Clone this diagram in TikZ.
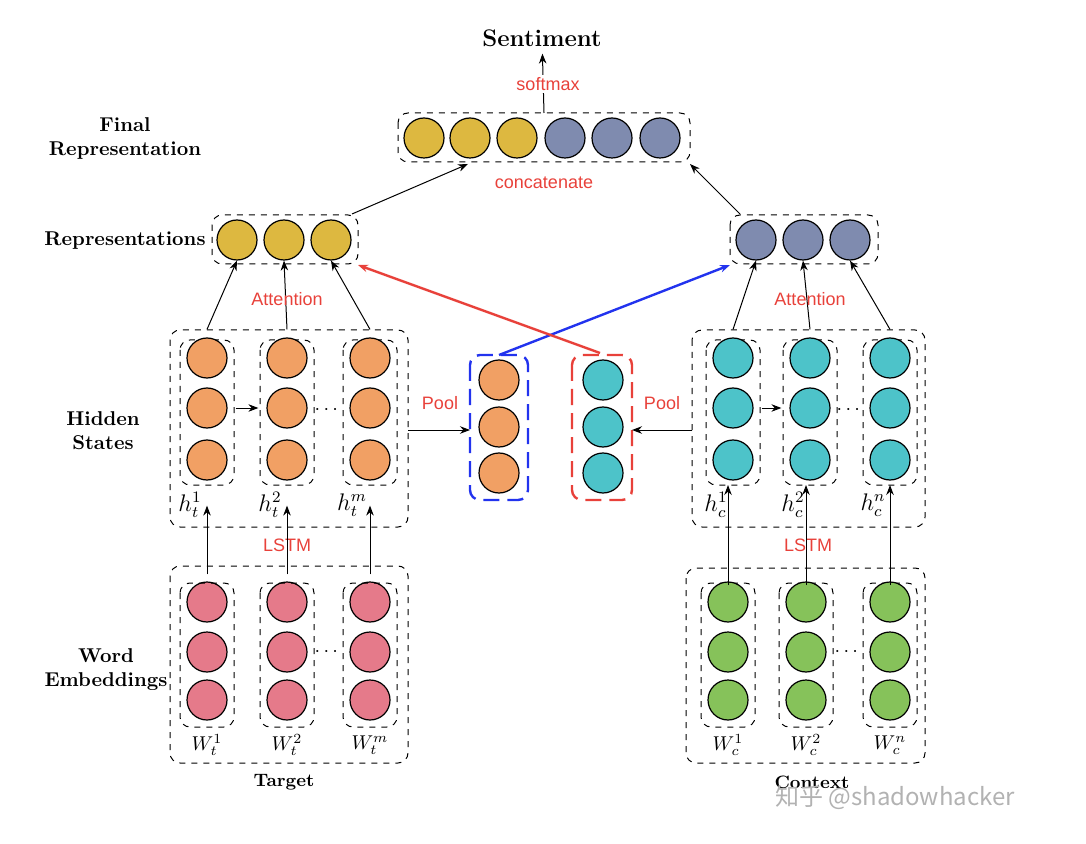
\documentclass[tikz,border=0pt]{standalone}
\usepackage{amsmath}
\usepackage{fontspec}
\newfontfamily\sansf{Liberation Sans}
\newfontfamily\cjk{Noto Sans CJK SC}
\usetikzlibrary{arrows.meta,calc}
\definecolor{cyel}{HTML}{DDB840}
\definecolor{cgry}{HTML}{7F8BAF}
\definecolor{corg}{HTML}{F1A064}
\definecolor{ccyn}{HTML}{4DC3C9}
\definecolor{cpnk}{HTML}{E57A8A}
\definecolor{cgrn}{HTML}{86C25A}
\definecolor{cred}{HTML}{E8413A}
\definecolor{cblu}{HTML}{2233EE}
\tikzset{
  unit/.style={circle,draw,line width=0.6pt,minimum size=20pt,inner sep=0pt,fill=#1},
  grp/.style={draw,dashed,rounded corners=5pt,line width=0.5pt},
  lbl/.style={font=\bfseries,align=center},
  red lbl/.style={font=\sansf\small,text=cred},
  arr/.style={-{Stealth[length=5pt]},line width=0.5pt}
}
\begin{document}
\begin{tikzpicture}[x=0.5pt,y=-0.5pt]
	\useasboundingbox (0,0) rectangle (1086,844);

	% labels
	\node[font=\bfseries\large] (sent) at (542,38) {Sentiment};
	\node[lbl] (lfin) at (125,139) {Final\\Representation};
	\node[lbl] (lrep) at (125,241) {Representations};
	\node[lbl] (lhid) at (103,431) {Hidden\\States};
	\node[lbl] (lemb) at (106,670) {Word\\Embeddings};
	\node[font=\bfseries\small] (ltar) at (284,782) {Target};
	\node[font=\bfseries\small] (lcon) at (812,782) {Context};

	% final representation
	\draw[grp] (398,113) rectangle (690,162);
	\coordinate (fin) at (544,113);
	\coordinate (finl) at (468,164);
	\coordinate (finr) at (690,164);
	\foreach \x [count=\i] in {424,470,517} \node[unit=cyel] (f\i) at (\x,138) {};
	\foreach \x [count=\i from 4] in {565,612,660} \node[unit=cgry] (f\i) at (\x,138) {};
	\draw[arr] (fin) -- (sent);
	\node[red lbl,fill=white,inner sep=1pt] (lsm) at (548,84) {softmax};
	\node[red lbl] (lcat) at (544,183) {concatenate};

	% representations
	\draw[grp] (212,215) rectangle (358,264);
	\draw[grp] (730,215) rectangle (878,264);
	\coordinate (repl) at (352,214);
	\coordinate (repr) at (740,214);
	\foreach \x [count=\i] in {237,284,331} \node[unit=cyel] (rl\i) at (\x,240) {};
	\foreach \x [count=\i] in {756,803,850} \node[unit=cgry] (rr\i) at (\x,240) {};
	\draw[arr] (repl) -- (finl);
	\draw[arr] (repr) -- (finr);

	% hidden states, target side
	\draw[grp] (170,330) rectangle (408,527);
	\foreach \x [count=\i] in {207,287,370} {
		\draw[grp] (\x-27,340) rectangle (\x+27,485);
		\foreach \y [count=\j] in {358,408,460} \node[unit=corg] (ht\i\j) at (\x,\y) {};
		\foreach \y [count=\j] in {602,652,700} \node[unit=cpnk] (wt\i\j) at (\x,\y) {};
		\draw[grp] (\x-27,583) rectangle (\x+27,727);
	}
	\node[font=\large] (htl1) at (190,505) {$h_t^1$};
	\node[font=\large] (htl2) at (270,505) {$h_t^2$};
	\node[font=\large] (htl3) at (352,505) {$h_t^m$};
	\draw[arr] ($(ht12.east)+(8,0)$) -- ($(ht22.west)+(-8,0)$);
	\node (dt) at (328,410) {$\cdots$};
	\foreach \i/\x in {1/237,2/284,3/331} \draw[arr] ($(ht\i1.north)+(0,-8)$) -- (rl\i.south);
	\node[red lbl] (latt) at (287,299) {Attention};
	\node[red lbl] (llstm) at (287,545) {LSTM};

	% word embeddings, target side
	\draw[grp] (170,566) rectangle (408,763);
	\foreach \i in {1,2,3} \draw[arr] ($(wt\i1.north)+(0,-7)$) -- ($(ht\i3.south)+(0,25)$);
	\node (dw) at (328,652) {$\cdots$};
	\node (wtl1) at (207,745) {$W_t^1$};
	\node (wtl2) at (287,745) {$W_t^2$};
	\node (wtl3) at (370,745) {$W_t^m$};

	% hidden states, context side
	\draw[grp] (692,330) rectangle (925,527);
	\foreach \x [count=\i] in {733,810,890} {
		\draw[grp] (\x-27,340) rectangle (\x+27,485);
		\foreach \y [count=\j] in {358,408,460} \node[unit=ccyn] (hc\i\j) at (\x,\y) {};
	}
	\foreach \x [count=\i] in {728,806,890} {
		\draw[grp] (\x-27,583) rectangle (\x+27,727);
		\foreach \y [count=\j] in {602,652,700} \node[unit=cgrn] (wc\i\j) at (\x,\y) {};
	}
	\node[font=\large] (hcl1) at (716,505) {$h_c^1$};
	\node[font=\large] (hcl2) at (793,505) {$h_c^2$};
	\node[font=\large] (hcl3) at (873,505) {$h_c^n$};
	\draw[arr] ($(hc12.east)+(8,0)$) -- ($(hc22.west)+(-8,0)$);
	\node (dc) at (850,410) {$\cdots$};
	\foreach \i in {1,2,3} \draw[arr] ($(hc\i1.north)+(0,-8)$) -- (rr\i.south);
	\node[red lbl] (latc) at (810,299) {Attention};
	\node[red lbl] (llsc) at (808,545) {LSTM};

	% word embeddings, context side
	\draw[grp] (686,568) rectangle (925,763);
	\foreach \i in {1,2,3} \draw[arr] (wc\i1.north |- 0,585) -- (wc\i1.north |- 0,485);
	\node (dwc) at (848,652) {$\cdots$};
	\node (wcl1) at (728,745) {$W_c^1$};
	\node (wcl2) at (806,745) {$W_c^2$};
	\node (wcl3) at (890,745) {$W_c^n$};

	% pooling
	\draw[grp,draw=cblu,line width=1.2pt,dash pattern=on 8pt off 4pt] (470,355) rectangle (528,500);
	\draw[grp,draw=cred,line width=1.2pt,dash pattern=on 8pt off 4pt] (572,355) rectangle (632,500);
	\foreach \y [count=\j] in {380,427,473} {
		\node[unit=corg] (pt\j) at (499,\y) {};
		\node[unit=ccyn] (pc\j) at (603,\y) {};
	}
	\coordinate (hidl) at (408,430);
	\coordinate (pooll) at (470,430);
	\coordinate (hidr) at (692,430);
	\coordinate (poolr) at (632,430);
	\draw[arr] (hidl) -- (pooll);
	\draw[arr] (hidr) -- (poolr);
	\node[red lbl] (lpl) at (440,403) {Pool};
	\node[red lbl] (lpr) at (662,403) {Pool};
	\coordinate (blutop) at (499,355);
	\coordinate (redtop) at (600,353);
	\draw[arr,draw=cblu,line width=1.2pt] (blutop) -- (730,265);
	\draw[arr,draw=cred,line width=1.2pt] (redtop) -- (358,265);

	% watermark
	\node[text=gray!60,font=\cjk\large] (wm) at (895,797) {知乎 @shadowhacker};
\end{tikzpicture}
\end{document}
